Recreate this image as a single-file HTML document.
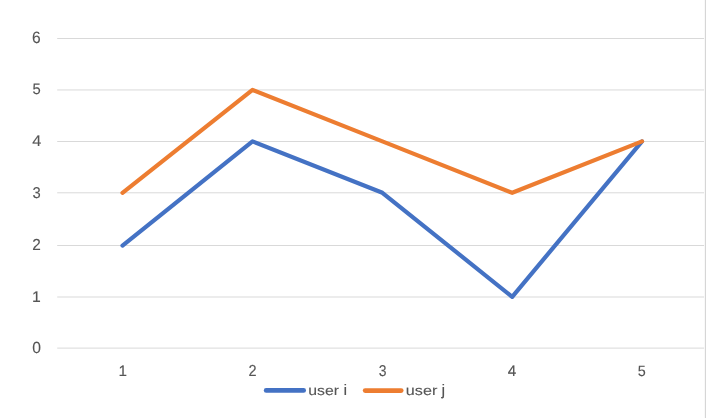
<!DOCTYPE html>
<html>
<head>
<meta charset="utf-8">
<style>
html,body{margin:0;padding:0;background:#fff;}
body{width:706px;height:418px;overflow:hidden;position:relative;font-family:"Liberation Sans",sans-serif;}
svg{position:absolute;left:0;top:0;display:block;will-change:transform;}
text{font-family:"Liberation Sans",sans-serif;fill:#555555;stroke:#555555;stroke-width:0.12px;text-rendering:geometricPrecision;}
</style>
</head>
<body>
<svg width="706" height="418" viewBox="0 0 706 418">
  <!-- right border -->
  <rect x="704.85" y="0" width="1.15" height="418" fill="#d6d6d6"/>
  <!-- gridlines -->
  <g stroke="#d9d9d9" stroke-width="1">
    <line x1="57.2" y1="38.5" x2="704.1" y2="38.5"/>
    <line x1="57.2" y1="89.95" x2="704.1" y2="89.95"/>
    <line x1="57.2" y1="141.5" x2="704.1" y2="141.5"/>
    <line x1="57.2" y1="192.8" x2="704.1" y2="192.8"/>
    <line x1="57.2" y1="245.5" x2="704.1" y2="245.5"/>
    <line x1="57.2" y1="297.0" x2="704.1" y2="297.0"/>
    <line x1="57.2" y1="348.1" x2="704.1" y2="348.1"/>
  </g>
  <!-- series -->
  <polyline points="122.5,245.55 252.5,141.35 382.4,192.8 512.2,296.85 642.0,141.35" fill="none" stroke="#4472c4" stroke-width="4.2" stroke-linecap="round" stroke-linejoin="round"/>
  <polyline points="122.5,192.8 252.5,89.95 382.4,141.35 512.2,192.8 642.0,141.35" fill="none" stroke="#ed7d31" stroke-width="4.2" stroke-linecap="round" stroke-linejoin="round"/>
  <!-- axis labels (per-glyph fitted) -->
  <g font-size="15.5" text-anchor="middle">
    <text transform="translate(36.45 42.64) scale(1.007 1.066)" x="0" y="0">6</text>
    <text transform="translate(36.61 93.55) scale(0.953 0.980)" x="0" y="0">5</text>
    <text transform="translate(36.75 145.70) scale(1.050 0.994)" x="0" y="0">4</text>
    <text transform="translate(36.64 197.55) scale(0.953 1.011)" x="0" y="0">3</text>
    <text transform="translate(36.60 249.70) scale(0.991 1.044)" x="0" y="0">2</text>
    <text transform="translate(36.48 301.70) scale(1.018 0.994)" x="0" y="0">1</text>
    <text transform="translate(36.65 352.64) scale(1.012 1.030)" x="0" y="0">0</text>
    <text transform="translate(122.69 375.70) scale(0.988 0.975)" x="0" y="0">1</text>
    <text transform="translate(252.50 375.70) scale(0.935 1.026)" x="0" y="0">2</text>
    <text transform="translate(382.54 375.55) scale(0.898 1.011)" x="0" y="0">3</text>
    <text transform="translate(512.00 375.70) scale(0.986 0.975)" x="0" y="0">4</text>
    <text transform="translate(641.71 375.55) scale(0.925 0.962)" x="0" y="0">5</text>
  </g>
  <!-- legend -->
  <line x1="266.15" y1="390.45" x2="303.65" y2="390.45" stroke="#4472c4" stroke-width="4.7" stroke-linecap="round"/>
  <text transform="translate(308.23 395.45) scale(1.02 0.875)" font-size="15.5">user</text>
  <text transform="translate(343.4 395.4) scale(1.05 0.985)" font-size="15.5">i</text>
  <line x1="365.15" y1="390.6" x2="401.2" y2="390.6" stroke="#ed7d31" stroke-width="4.7" stroke-linecap="round"/>
  <text transform="translate(405.85 395.45) scale(1.042 0.875)" font-size="15.5">user</text>
  <text transform="translate(441.56 395.4) scale(1.05 0.985)" font-size="15.5">j</text>
</svg>
</body>
</html>
